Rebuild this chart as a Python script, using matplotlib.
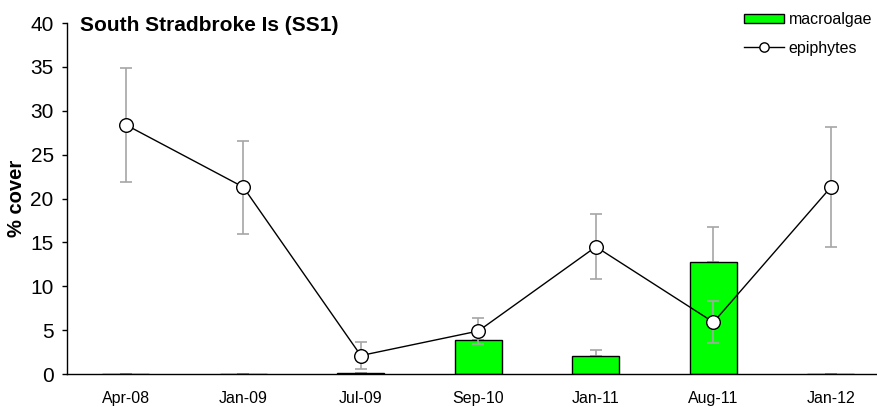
import numpy as np
import matplotlib
matplotlib.use("Agg")
import matplotlib.pyplot as plt
from matplotlib.lines import Line2D
from matplotlib.patches import Patch

plt.rcParams['font.family'] = ['Liberation Sans', 'DejaVu Sans']

dates = ['Apr-08', 'Jan-09', 'Jul-09', 'Sep-10', 'Jan-11', 'Aug-11', 'Jan-12']
macroalgae = [0.0, 0.0, 0.15, 3.85, 2.0, 12.8, 0.0]
macroalgae_se = [0.0, 0.0, 0.0, 0.0, 0.7, 4.0, 0.0]
epiphytes = [28.4, 21.3, 2.1, 4.9, 14.5, 5.9, 21.3]
epiphytes_se = [6.5, 5.3, 1.5, 1.5, 3.7, 2.4, 6.8]

W, H = 878, 407
fig = plt.figure(figsize=(W / 100, H / 100), dpi=100)
ax = fig.add_axes((67 / W, 1 - 374 / H, 1 - 67 / W, (374 - 23) / H))

x = np.arange(len(dates))
grey = '#a6a6a6'

# bars, with error bars pointing up only
ax.errorbar(x, macroalgae, yerr=[np.zeros(len(x)), macroalgae_se], fmt='none',
            ecolor=grey, elinewidth=1.2, capsize=4.3, capthick=1.2, zorder=1)
ax.bar(x, macroalgae, width=0.4, color='#00ff00', edgecolor='black',
       linewidth=1.0, zorder=2)

# epiphytes line over the bars
ax.errorbar(x, epiphytes, yerr=epiphytes_se, fmt='none', ecolor=grey,
            elinewidth=1.2, capsize=4.3, capthick=1.2, zorder=3)
ax.plot(x, epiphytes, '-', color='black', linewidth=1.0, zorder=4)
ax.plot(x, epiphytes, 'o', markersize=9.8, markerfacecolor='white',
        markeredgecolor='black', markeredgewidth=1.0, zorder=5)

ax.set_xlim(-0.5, 6.4)
ax.set_ylim(0, 40)
ax.set_yticks(np.arange(0, 41, 5))
ax.set_xticks(x)
ax.set_xticklabels(dates, fontsize=11.5)
ax.tick_params(axis='y', direction='out', length=3.6, width=1.0, pad=6,
               labelsize=15)
ax.tick_params(axis='x', length=0, pad=12)
for side in ('top', 'right'):
    ax.spines[side].set_visible(False)
ax.spines['left'].set_linewidth(1.0)
ax.spines['bottom'].set_linewidth(1.0)

ax.set_ylabel('% cover', fontsize=14.5, fontweight='bold')
ax.yaxis.set_label_coords(-0.05, 0.5)

fig.text(80 / W, 1 - 31 / H, 'South Stradbroke Is (SS1)', fontsize=15,
         fontweight='bold', va='baseline', ha='left')

handles = [
    Patch(facecolor='#00ff00', edgecolor='black', linewidth=1.0),
    Line2D([], [], color='black', linewidth=1.0, marker='o', markersize=6.7,
           markerfacecolor='white', markeredgecolor='black'),
]
leg = fig.legend(handles, ['macroalgae', 'epiphytes'], loc='upper left',
                 bbox_to_anchor=(744 / W, 1 - 12 / H), frameon=False,
                 fontsize=11.5, handlelength=2.5, handleheight=0.55,
                 handletextpad=0.3, labelspacing=0.85, borderpad=0,
                 borderaxespad=0)

fig.savefig('out.png', dpi=100)
